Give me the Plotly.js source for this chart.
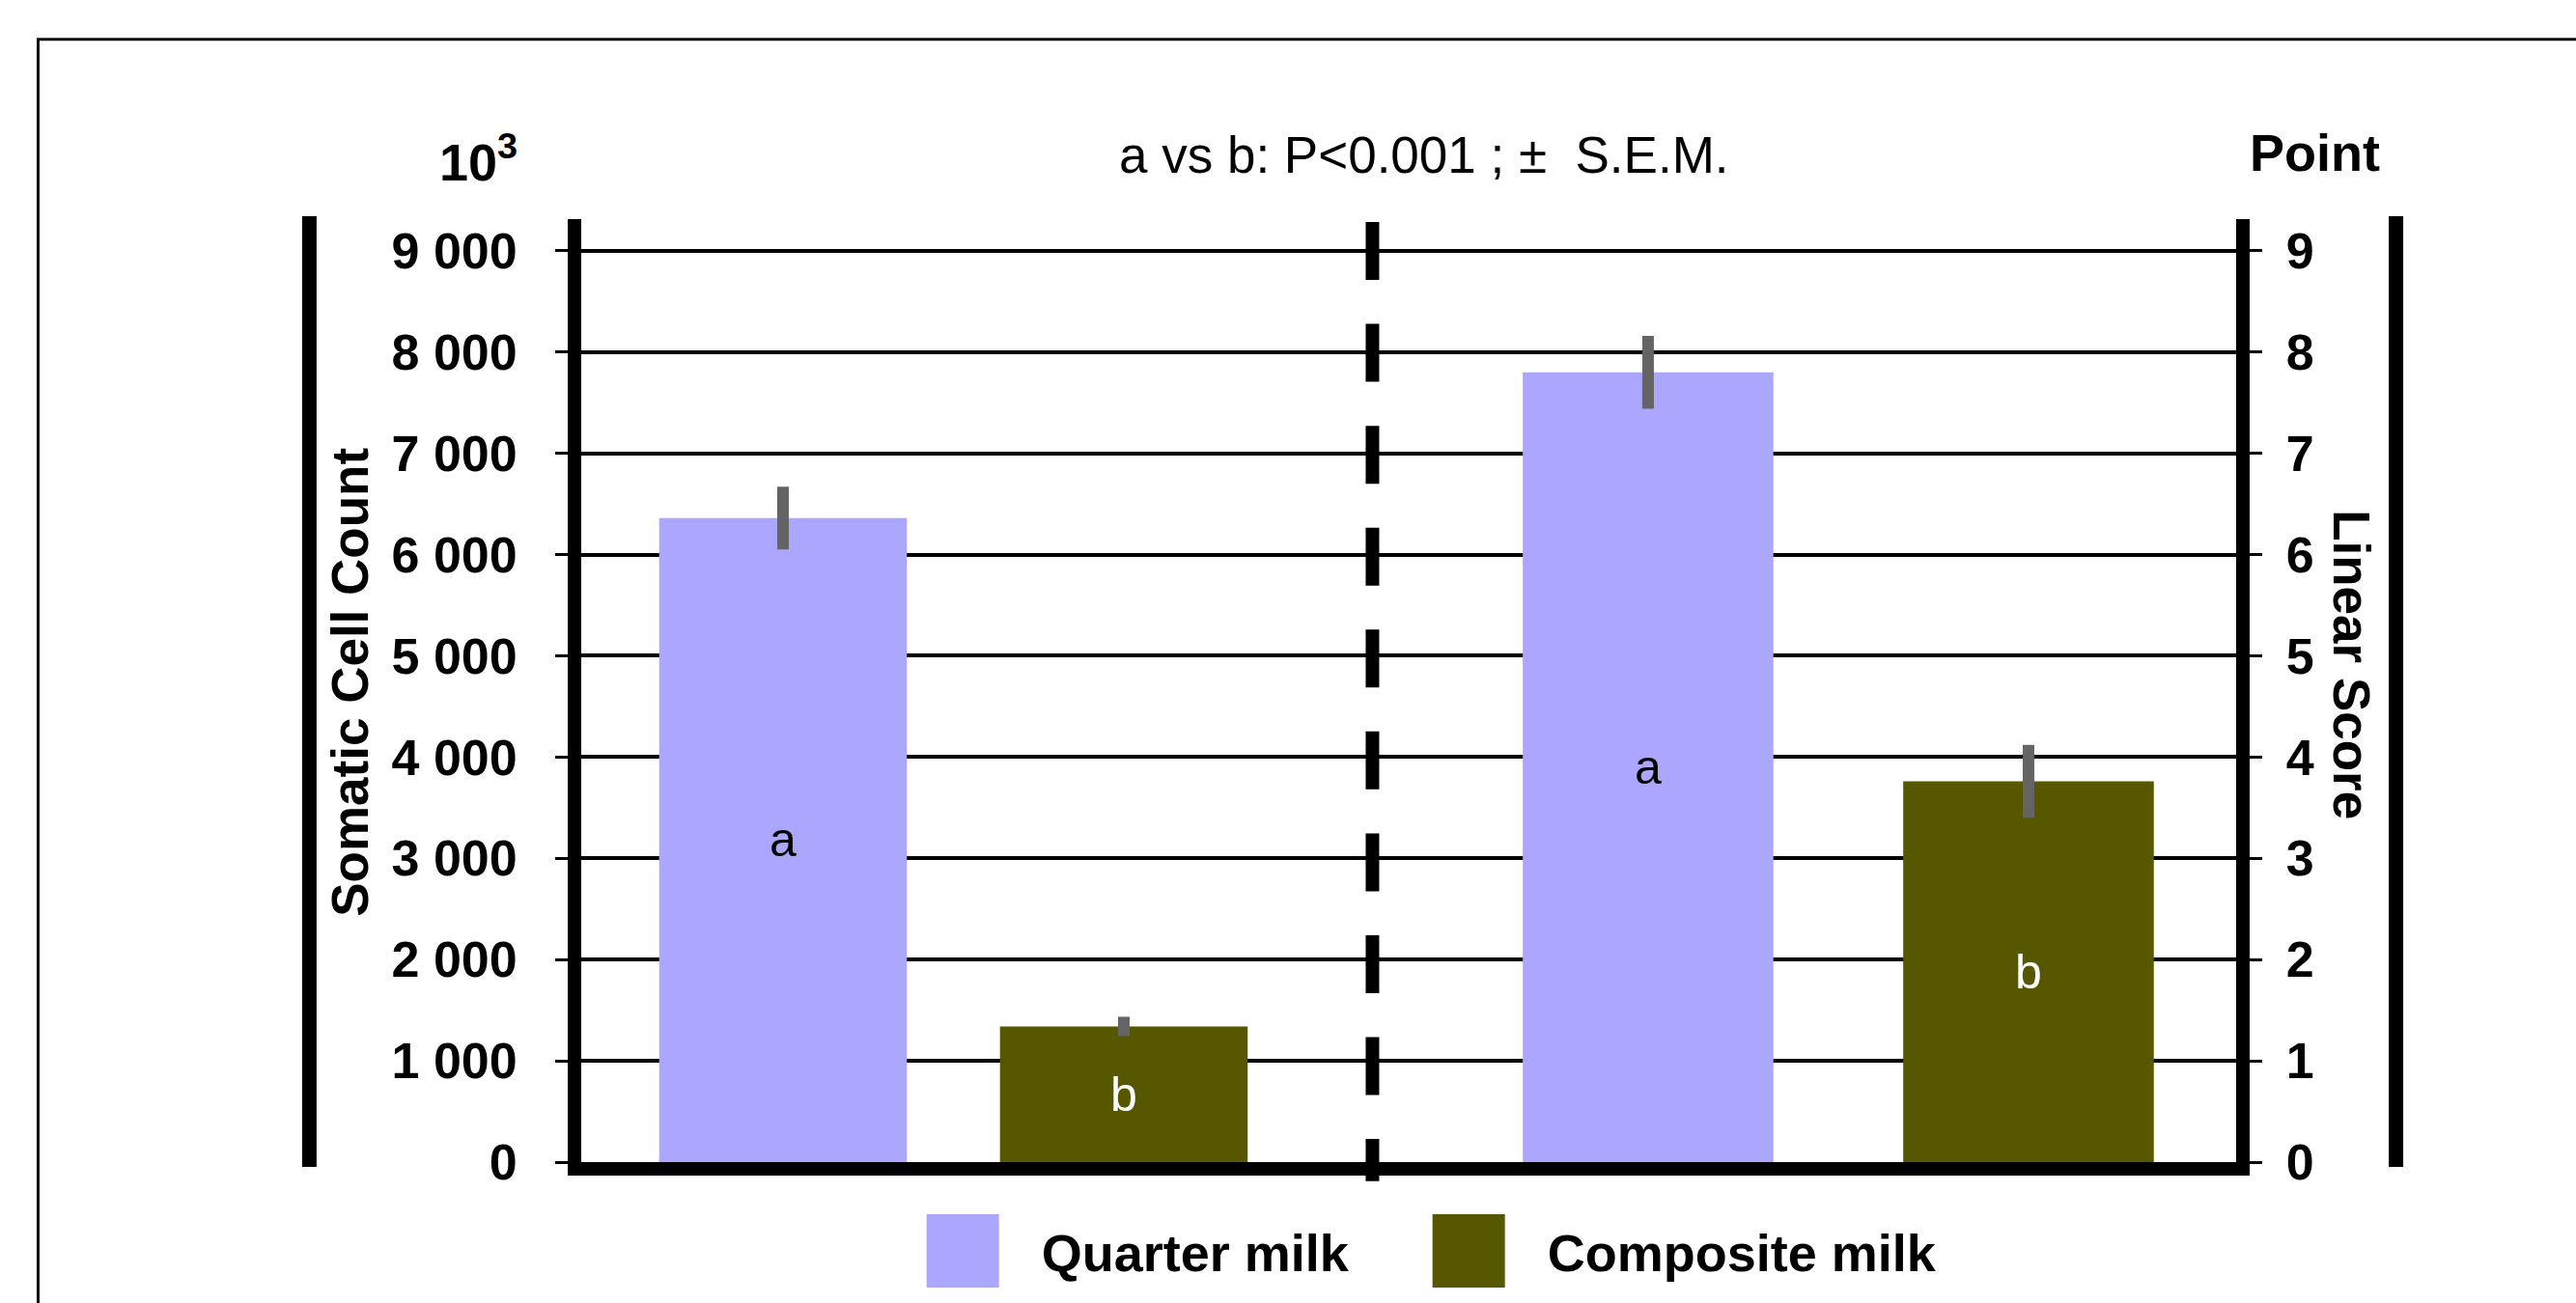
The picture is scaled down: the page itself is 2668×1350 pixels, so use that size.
<!DOCTYPE html>
<html>
<head>
<meta charset="utf-8">
<script src="https://cdn.plot.ly/plotly-3.0.1.min.js"></script>
<style>
  html, body { margin: 0; padding: 0; background: #ffffff; }
  #chart { width: 2668px; height: 1350px; }
</style>
</head>
<body>
<div id="chart"></div>
<script>
// ---- data ----
const measures = ['Somatic Cell Count', 'Linear Score'];
const seriesNames = ['Quarter milk', 'Composite milk'];
const sccValues = [6360, 1340];      // x 10^3 cells
const sccSem = [310, 95];
const lsValues = [7.80, 3.76];       // points
const lsSem = [0.36, 0.36];
const sigLetters = ['a', 'b'];
const sccTickVals = [0, 1000, 2000, 3000, 4000, 5000, 6000, 7000, 8000, 9000];
const sccTickText = ['0', '1 000', '2 000', '3 000', '4 000', '5 000', '6 000', '7 000', '8 000', '9 000'];
const lsTickVals = [0, 1, 2, 3, 4, 5, 6, 7, 8, 9];
const lsTickText = ['0', '1', '2', '3', '4', '5', '6', '7', '8', '9'];
const noteText = 'a vs b: P&lt;0.001 ; \u00b1\u00a0\u00a0S.E.M.';
const sccUnitText = '10<sup>3</sup>';
const lsUnitText = 'Point';

// ---- styles ----
const FONT = 'Liberation Sans, Arial, Helvetica, sans-serif';
const barColors = ['#ABA7FF', '#575700'];
const letterColors = ['#000000', '#FFFFFF'];
const legendWidths = [356, 420];
const barWidthLeft = 0.2907;   // category units on the left panel
const barWidthRight = 0.2635;  // category units on the right panel
const errColor = '#646464';
const PAD = '\u00a0';

const traces = [];
seriesNames.forEach((name, i) => {
  const common = {
    type: 'bar',
    name: name,
    legendgroup: name,
    legendwidth: legendWidths[i],
    offsetgroup: name,
    marker: { color: barColors[i], line: { width: 0 } },
    text: [sigLetters[i]],
    textposition: 'inside',
    insidetextanchor: 'middle',
    textangle: 0,
    insidetextfont: { family: FONT, size: 50, color: letterColors[i] },
    hoverinfo: 'skip'
  };
  traces.push(Object.assign({}, common, {
    x: [measures[0]], y: [sccValues[i]], xaxis: 'x', yaxis: 'y', showlegend: true,
    width: barWidthLeft,
    error_y: { type: 'data', array: [sccSem[i]], visible: true, color: errColor, thickness: 12, width: 0 }
  }));
  traces.push(Object.assign({}, common, {
    x: [measures[1]], y: [lsValues[i]], xaxis: 'x2', yaxis: 'y2', showlegend: false,
    width: barWidthRight,
    error_y: { type: 'data', array: [lsSem[i]], visible: true, color: errColor, thickness: 12, width: 0 }
  }));
});

const xCommon = {
  type: 'category',
  showticklabels: false,
  ticks: '',
  showgrid: false,
  zeroline: false,
  showline: true,
  linecolor: '#000000',
  linewidth: 14,
  fixedrange: true
};
const yCommon = {
  tickmode: 'array',
  ticks: 'outside',
  ticklen: 13,
  tickwidth: 3,
  tickcolor: '#000000',
  showline: true,
  linewidth: 14,
  linecolor: '#000000',
  showgrid: true,
  gridcolor: '#000000',
  gridwidth: 4,
  zeroline: false,
  tickfont: { family: FONT, size: 52, weight: 'bold', color: '#000000' },
  fixedrange: true
};

const layout = {
  width: 2668,
  height: 1350,
  paper_bgcolor: '#ffffff',
  plot_bgcolor: 'rgba(0,0,0,0)',
  margin: { l: 602, r: 352, t: 227, b: 140, pad: 0 },
  font: { family: FONT, color: '#000000' },
  barmode: 'group',
  bargap: 0.2,
  showlegend: true,
  legend: {
    orientation: 'h',
    x: 0.183, xanchor: 'left',
    y: -0.0946, yanchor: 'middle',
    font: { family: FONT, size: 54, weight: 'bold', color: '#000000' },
    itemwidth: 153,
    bgcolor: 'rgba(0,0,0,0)',
    borderwidth: 0
  },
  xaxis: Object.assign({}, xCommon, {
    domain: [0, 0.4781], anchor: 'y',
    categoryorder: 'array', categoryarray: [measures[0]],
    range: [-0.4368, 0.4918]
  }),
  xaxis2: Object.assign({}, xCommon, {
    domain: [0.4781, 1], anchor: 'y2',
    categoryorder: 'array', categoryarray: [measures[1]],
    range: [-0.4898, 0.4183]
  }),
  yaxis: Object.assign({}, yCommon, {
    anchor: 'x', side: 'left',
    range: [0, 9312.6],
    tickvals: sccTickVals,
    ticktext: sccTickText.map(t => t + PAD + PAD)
  }),
  yaxis2: Object.assign({}, yCommon, {
    anchor: 'x2', side: 'right',
    range: [0, 9.3126],
    tickvals: lsTickVals,
    ticktext: lsTickText.map(t => PAD + t)
  }),
  shapes: [
    // divider between the two measures
    { type: 'line', xref: 'paper', yref: 'paper', x0: 0.4781, x1: 0.4781, y0: 0.9969, y1: -0.0203,
      line: { color: '#000000', width: 14, dash: '60px,45.56px' } },
    // outer vertical bars beside the axis titles
    { type: 'line', xref: 'paper', yref: 'paper', x0: -0.1643, x1: -0.1643, y0: 1.0031, y1: -0.0051,
      line: { color: '#000000', width: 15 } },
    { type: 'line', xref: 'paper', yref: 'paper', x0: 1.0966, x1: 1.0966, y0: 1.0031, y1: -0.0051,
      line: { color: '#000000', width: 15 } },
    // figure frame (runs off the right and bottom edges)
    { type: 'rect', xref: 'paper', yref: 'paper', x0: -0.3282, x1: 1.6, y0: -0.6, y1: 1.1907,
      line: { color: '#111111', width: 3 }, fillcolor: 'rgba(0,0,0,0)' }
  ],
  annotations: [
    { text: noteText, xref: 'paper', yref: 'paper', x: 0.5093, y: 1.0682, xanchor: 'center', yanchor: 'middle',
      showarrow: false, font: { family: FONT, size: 53, color: '#000000' } },
    { text: sccUnitText, xref: 'paper', yref: 'paper', x: -0.0624, y: 1.064, xanchor: 'center', yanchor: 'middle',
      showarrow: false, font: { family: FONT, size: 54, weight: 'bold', color: '#000000' } },
    { text: lsUnitText, xref: 'paper', yref: 'paper', x: 1.0478, y: 1.0702, xanchor: 'center', yanchor: 'middle',
      showarrow: false, font: { family: FONT, size: 54, weight: 'bold', color: '#000000' } },
    { text: measures[0], xref: 'paper', yref: 'paper', x: -0.1394, y: 0.509, xanchor: 'center', yanchor: 'middle',
      textangle: -90, showarrow: false, font: { family: FONT, size: 53, weight: 'bold', color: '#000000' } },
    { text: measures[1], xref: 'paper', yref: 'paper', x: 1.070, y: 0.527, xanchor: 'center', yanchor: 'middle',
      textangle: 90, showarrow: false, font: { family: FONT, size: 53, weight: 'bold', color: '#000000' } }
  ]
};

function enlargeLegendSwatches() {
  document.querySelectorAll('#chart .legend .legendpoints path').forEach(p => {
    p.setAttribute('d', 'M37.5,38H-37.5V-38H37.5Z');
  });
}

Plotly.newPlot('chart', traces, layout, { staticPlot: true, displayModeBar: false }).then(gd => {
  enlargeLegendSwatches();
  gd.on('plotly_afterplot', enlargeLegendSwatches);
});
</script>
</body>
</html>
